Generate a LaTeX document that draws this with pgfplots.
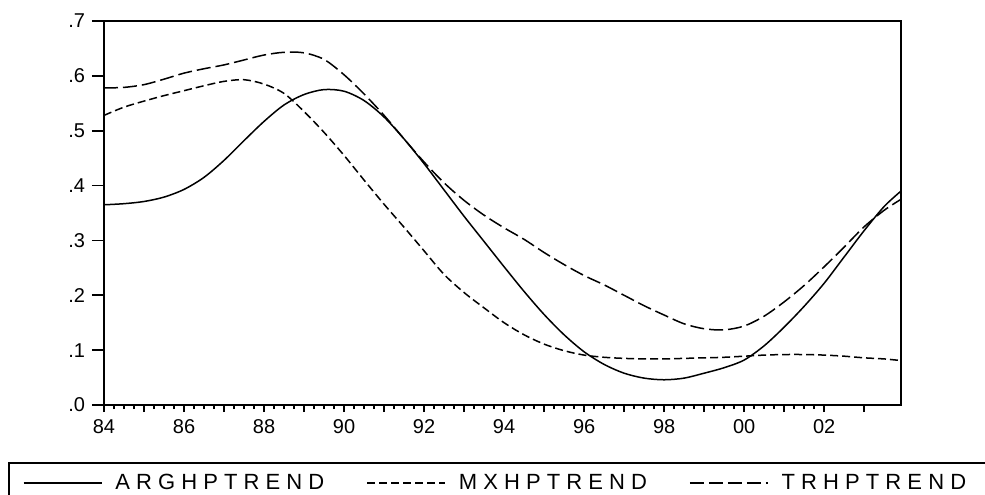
\documentclass[border=0pt]{standalone}
\usepackage{fontspec}
\setmainfont{Liberation Sans}
\usepackage{pgfplots}
\usepackage{pgfplotstable}
\pgfplotsset{compat=1.18}

\pgfplotstableread{
x y
84.0 0.365
84.5 0.367
85.0 0.371
85.5 0.379
86.0 0.393
86.5 0.415
87.0 0.446
87.5 0.482
88.0 0.517
88.5 0.547
89.0 0.566
89.5 0.575
90.0 0.572
90.5 0.555
91.0 0.525
91.5 0.485
92.0 0.440
92.5 0.392
93.0 0.344
93.5 0.298
94.0 0.252
94.5 0.207
95.0 0.165
95.5 0.128
96.0 0.097
96.5 0.074
97.0 0.058
97.5 0.049
98.0 0.046
98.5 0.049
99.0 0.058
99.5 0.068
100.0 0.082
100.5 0.108
101.0 0.142
101.5 0.180
102.0 0.222
102.5 0.270
103.0 0.318
103.5 0.362
103.92 0.390
}\arg

\pgfplotstableread{
x y
84.0 0.528
84.5 0.543
85.0 0.554
85.5 0.564
86.0 0.573
86.5 0.582
87.0 0.590
87.5 0.593
88.0 0.585
88.5 0.568
89.0 0.535
89.5 0.497
90.0 0.455
90.5 0.410
91.0 0.366
91.5 0.324
92.0 0.281
92.5 0.238
93.0 0.205
93.5 0.177
94.0 0.150
94.5 0.128
95.0 0.111
95.5 0.099
96.0 0.091
96.5 0.087
97.0 0.085
97.5 0.084
98.0 0.084
98.5 0.085
99.0 0.086
99.5 0.087
100.0 0.089
100.5 0.091
101.0 0.092
101.5 0.092
102.0 0.091
102.5 0.089
103.0 0.086
103.5 0.084
103.92 0.081
}\mx

\pgfplotstableread{
x y
84.0 0.578
84.5 0.579
85.0 0.584
85.5 0.594
86.0 0.605
86.5 0.613
87.0 0.620
87.5 0.629
88.0 0.638
88.5 0.643
89.0 0.642
89.5 0.630
90.0 0.602
90.5 0.567
91.0 0.528
91.5 0.485
92.0 0.443
92.5 0.405
93.0 0.373
93.5 0.346
94.0 0.323
94.5 0.302
95.0 0.278
95.5 0.256
96.0 0.236
96.5 0.219
97.0 0.200
97.5 0.181
98.0 0.164
98.5 0.148
99.0 0.139
99.5 0.137
100.0 0.144
100.5 0.162
101.0 0.188
101.5 0.218
102.0 0.252
102.5 0.288
103.0 0.325
103.5 0.355
103.92 0.375
}\tr

\pgfplotsset{
  base/.style={
    at={(52pt,-202.5pt)}, anchor=south west,
    scale only axis, width=398.5pt, height=192pt,
    xmin=84, xmax=103.92, ymin=0, ymax=0.7,
    tick align=outside, xtick pos=bottom, ytick pos=left,
    /pgf/number format/assume math mode=true,
    tick label style={font=\fontsize{10}{12}\selectfont},
  }
}

\begin{document}
\begin{tikzpicture}
\useasboundingbox (0,0) rectangle (492.5pt,-247pt);
\clip (0,0) rectangle (492.5pt,-247pt);
% y ticks only (longer ticks)
\begin{axis}[base,
    axis line style={draw=none},
    xtick=\empty,
    ytick={0,0.1,0.2,0.3,0.4,0.5,0.6,0.7},
    yticklabels={.0,.1,.2,.3,.4,.5,.6,.7},
    ytick style={black, line width=0.8pt},
    major tick length=6pt,
]
\end{axis}
% box, x ticks, data, legend
\begin{axis}[base,
    axis line style={line width=0.9pt},
    ytick=\empty,
    xtick={84,86,...,102},
    xticklabels={84,86,88,90,92,94,96,98,00,02},
    minor x tick num=7,
    extra x ticks={85,87,...,103}, extra x tick labels={},
    xtick style={black, line width=0.8pt},
    major tick length=3.5pt, minor tick length=2pt,
    legend style={at={(-0.1205,-0.1484)}, anchor=north west, draw=black,
        line width=0.9pt, legend columns=4, inner xsep=7pt, inner ysep=3.5pt,
        font=\fontsize{11}{13}\selectfont,
        /tikz/every odd column/.append style={column sep=4.5pt},
        /tikz/every even column/.append style={column sep=19pt}},
    legend image code/.code={\draw[#1] (0pt,0pt) -- (39pt,0pt);},
]
\addplot[black, line width=0.75pt, smooth] table[x=x,y=y] {\arg};
\addlegendentry{A R G H P T R E N D}
\addplot[black, line width=0.75pt, smooth, dash pattern=on 4pt off 2pt] table[x=x,y=y] {\mx};
\addlegendentry{M X H P T R E N D}
\addplot[black, line width=0.75pt, smooth, dash pattern=on 7pt off 2.5pt] table[x=x,y=y] {\tr};
\addlegendentry{T R H P T R E N D}
\addlegendimage{empty legend}
\addlegendentry{}
\end{axis}
\end{tikzpicture}
\end{document}
